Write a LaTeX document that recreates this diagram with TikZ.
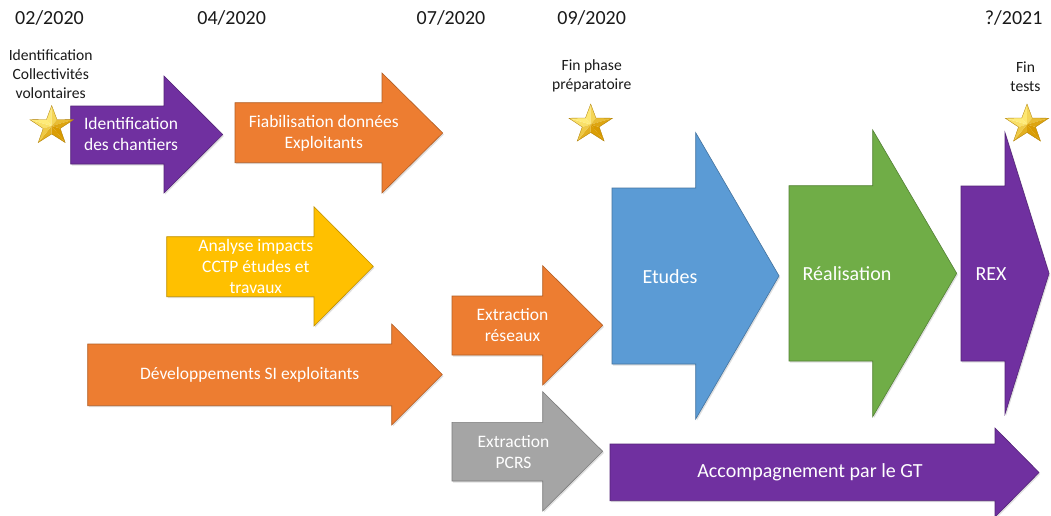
\documentclass[tikz,border=0pt]{standalone}
\usepackage{fontspec}
\setmainfont{Carlito}
\usepackage{tikz}
\usetikzlibrary{shadows}
\definecolor{arrpurple}{HTML}{7030A0}
\definecolor{arrorange}{HTML}{ED7D31}
\definecolor{arryellow}{HTML}{FFC000}
\definecolor{arrblue}{HTML}{5B9BD5}
\definecolor{arrgreen}{HTML}{70AD47}
\definecolor{arrgrey}{HTML}{A5A5A5}
\definecolor{starlight}{HTML}{FFEC7A}
\definecolor{stardark}{HTML}{D89A00}
\definecolor{datecol}{HTML}{1A1A1A}
% block arrow: (left:body top:body bottom)(head base:head top:head bottom)(tip)
\def\blockarrow[#1](#2:#3:#4)(#5:#6:#7)(#8){\draw[#1] (#2,#3) -- (#5,#3) -- (#5,#6) -- (#8,{(#6+#7)/2}) -- (#5,#7) -- (#5,#4) -- (#2,#4) -- cycle;}
% bevelled gold star
\def\goldstar(#1,#2){\begin{scope}[shift={(#1,#2)},yscale=-1,xscale=1.12]
	\foreach \a in {90,162,...,378}{
		\pgfmathtruncatemacro\ml{50+50*cos(\a+18-135)}
		\pgfmathtruncatemacro\mr{50+50*cos(\a-18-135)}
		\fill[starlight!\ml!stardark] (0,0) -- (\a:20.5) -- ({\a+36}:8) -- cycle;
		\fill[starlight!\mr!stardark] (0,0) -- (\a:20.5) -- ({\a-36}:8) -- cycle;
	}
	\draw[stardark!80!black, line width=0.3pt] (90:20.5) \foreach \a in {90,162,...,378}{ -- ({\a+36}:8) -- ({\a+72}:20.5)} -- cycle;
	\end{scope}}

\tikzset{
	arr/.style={fill=#1, draw=#1!75!black, line width=0.6pt, line join=miter,
		drop shadow={opacity=0.25, shadow xshift=1.2pt, shadow yshift=-1.5pt}},
	datetext/.style={text=datecol, font=\fontsize{20}{24}\selectfont, inner sep=0pt},
	miletext/.style={text=datecol, align=center, font=\fontsize{15.6}{18.7}\selectfont, inner sep=0pt},
	boxtext/.style={text=white, align=center, font=\fontsize{17.5}{21}\selectfont, inner sep=0pt},
	phasetext/.style={text=white, font=\fontsize{20}{24}\selectfont, inner sep=0pt}
}

\begin{document}
\begin{tikzpicture}[x=1pt, y=-1pt]
		%%%%% START %%%%%
		\useasboundingbox (0,0) rectangle (1051,515);
		\fill[white] (0,0) rectangle (1051,515);
		
		% dates
		\node[datetext] (d1) at (49.5, 18) {02/2020};
		\node[datetext] (d2) at (231.7, 18) {04/2020};
		\node[datetext] (d3) at (451, 18) {07/2020};
		\node[datetext] (d4) at (591.7, 18) {09/2020};
		\node[datetext] (d5) at (1013.7, 18) {?/2021};
		
		% milestones
		\node[miletext] (m1) at (50.7, 74) {Identification\\Collectivités\\volontaires};
		\node[miletext] (m2) at (591.7, 75.5) {Fin phase\\préparatoire};
		\node[miletext] (m3) at (1025.5, 76.7) {Fin\\tests};
		
		% preparation
		\blockarrow[arr=arrpurple](70.7:106:164)(164:76:193)(222.7)
		\blockarrow[arr=arrorange](235:102.7:162.7)(382:73:193)(442.7)
		\blockarrow[arr=arryellow](166.7:236.7:296.7)(314:206.7:326)(373.3)
		\blockarrow[arr=arrorange](87.7:344:405.7)(391.7:324:425)(442.3)
		\blockarrow[arr=arrorange](452:296:355)(542.7:265.7:385)(602.7)
		\blockarrow[arr=arrgrey](452:422.3:481)(542.7:391.7:511)(602.7)
		
		\node[boxtext] (chantiers) at (131, 134) {Identification\\des chantiers};
		\node[boxtext] (fiab) at (323.8, 133.5) {Fiabilisation données\\Exploitants};
		\node[boxtext] (analyse) at (255.8, 266.7) {Analyse impacts\\CCTP études et\\travaux};
		\node[boxtext] (devsi) at (249.7, 375.3) {Développements SI exploitants};
		\node[boxtext] (reseaux) at (512.5, 325.5) {Extraction\\réseaux};
		\node[boxtext] (pcrs) at (513.5, 451.7) {Extraction\\PCRS};
		
		% phases
		\blockarrow[arr=arrblue](612:188:364)(695.7:132.7:419)(779)
		\blockarrow[arr=arrgreen](789:185.7:361)(872.7:130:416.7)(956.7)
		\blockarrow[arr=arrpurple](961:186:361)(1005:132.7:414)(1049)
		\blockarrow[arr=arrpurple](610:444:500.7)(995:428:517)(1039)
		
		\node[phasetext] (etudes) at (670, 276.7) {Etudes};
		\node[phasetext] (real) at (847, 274) {Réalisation};
		\node[phasetext] (rex) at (991, 274) {REX};
		\node[phasetext] (gt) at (810, 472.7) {Accompagnement par le GT};
		
		% stars
		\goldstar(51.7,126)
		\goldstar(590.7,124.5)
		\goldstar(1027,124.5)
		%%%%% END %%%%%
	\end{tikzpicture}
\end{document}
